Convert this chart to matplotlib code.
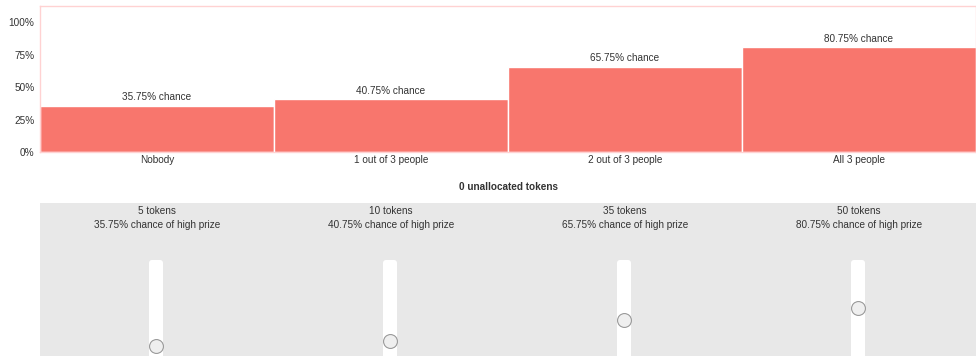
import matplotlib
matplotlib.use("Agg")
import matplotlib.pyplot as plt
from matplotlib.patches import FancyBboxPatch

# outcome groups and their chance of the high prize (%)
outcomes = ["Nobody", "1 out of 3 people", "2 out of 3 people", "All 3 people"]
chances = [35.75, 40.75, 65.75, 80.75]
tokens = [5, 10, 35, 50]
unallocated = 0
y_ticks = [0, 25, 50, 75, 100]

BAR_COLOR = "#f8766d"
FRAME_COLOR = "#ffd2d2"
PANEL_COLOR = "#e8e8e8"
TEXT_COLOR = "#333333"
FS = 7.2
W, H = 976, 356

plt.rcParams["font.family"] = ["Liberation Sans", "DejaVu Sans"]
fig = plt.figure(figsize=(W / 100, H / 100), dpi=100)


def px_rect(left, top, right, bottom):
    return [left / W, 1 - bottom / H, (right - left) / W, (bottom - top) / H]


# --- bar chart ---
ax = fig.add_axes(px_rect(40, 6, 976, 152))
xs = range(len(outcomes))
ax.bar(xs, chances, width=1.0, color=BAR_COLOR, edgecolor="white", linewidth=1)
for x, c in zip(xs, chances):
    ax.annotate(f"{c:.2f}% chance", (x, c), xytext=(0, 2.5), textcoords="offset points",
                ha="center", va="bottom", fontsize=FS, color=TEXT_COLOR)
ax.set_xlim(-0.5, len(outcomes) - 0.5)
ax.set_ylim(0, 112.7)
ax.set_yticks(y_ticks)
ax.set_yticklabels([f"{t}%" for t in y_ticks])
ax.set_xticks(list(xs))
ax.set_xticklabels(outcomes)
ax.tick_params(length=0, labelsize=FS, labelcolor=TEXT_COLOR, pad=4)
ax.tick_params(axis="x", pad=2)
for s in ax.spines.values():
    s.set_color(FRAME_COLOR)
    s.set_linewidth(1)

fig.text(509 / W, 1 - 187 / H, f"{unallocated} unallocated tokens", ha="center", va="center",
         fontsize=FS, fontweight="bold", color=TEXT_COLOR)

# --- token allocation panel (pixel coordinates) ---
panel = fig.add_axes(px_rect(40, 203, 976, 356))
panel.set_facecolor(PANEL_COLOR)
panel.set_xlim(40, 976)
panel.set_ylim(356, 203)
panel.set_xticks([])
panel.set_yticks([])
for s in panel.spines.values():
    s.set_visible(False)

col_w = 936 / len(outcomes)
track_w, track_top = 14, 260
for i, (t, c) in enumerate(zip(tokens, chances)):
    cx = 40 + col_w * (i + 0.5)
    panel.text(cx, 211, f"{t} tokens", ha="center", va="center", fontsize=FS, color=TEXT_COLOR)
    panel.text(cx, 225.5, f"{c:.2f}% chance of high prize", ha="center", va="center",
               fontsize=FS, color=TEXT_COLOR)
    panel.add_patch(FancyBboxPatch((cx - 1 - track_w / 2, track_top), track_w, 110,
                                   boxstyle="round,pad=0,rounding_size=3",
                                   facecolor="white", edgecolor="none"))
    # slider knob on a 0-100 token scale
    sl = fig.add_axes(px_rect(cx - 1 - track_w / 2, track_top, cx - 1 + track_w / 2, 356))
    sl.set_xlim(0, 1)
    sl.set_ylim(-7.2, 106.5)
    sl.axis("off")
    sl.scatter([0.5], [t], s=100, facecolor="#efefef", edgecolor="#9a9a9a",
               linewidth=0.8, clip_on=False, zorder=3)

fig.savefig("out.png", dpi=100)
